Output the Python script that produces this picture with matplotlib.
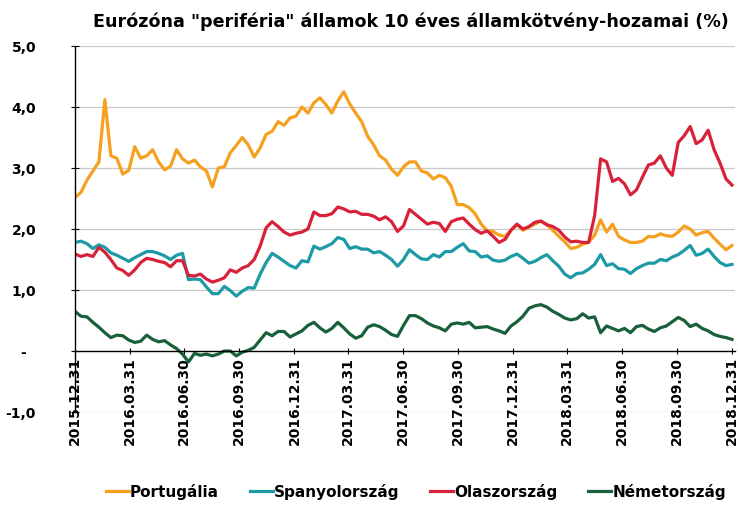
import numpy as np
import pandas as pd
import matplotlib
matplotlib.use('Agg')
import matplotlib.pyplot as plt

plt.rcParams['font.family'] = ['DejaVu Sans']
plt.rcParams['font.weight'] = 'bold'

# ~10 napos mintavetel 2015.12.31 - 2018.12.31
dates = pd.date_range('2015-12-31', '2018-12-31', periods=111)

portugal = [2.52, 2.60, 2.80, 2.95, 3.10, 4.12, 3.20, 3.16, 2.90, 2.96,
            3.35, 3.16, 3.20, 3.30, 3.10, 2.97, 3.03, 3.30, 3.15, 3.08,
            3.13, 3.02, 2.95, 2.69, 3.00, 3.02, 3.25, 3.37, 3.50, 3.38,
            3.18, 3.33, 3.55, 3.60, 3.76, 3.70, 3.82, 3.85, 4.00, 3.90,
            4.07, 4.15, 4.04, 3.90, 4.10, 4.25, 4.05, 3.90, 3.76, 3.52,
            3.38, 3.20, 3.13, 2.98, 2.88, 3.02, 3.10, 3.10, 2.95, 2.92,
            2.82, 2.88, 2.84, 2.70, 2.40, 2.40, 2.35, 2.25, 2.08, 1.97,
            1.96, 1.90, 1.88, 1.98, 2.07, 1.98, 2.03, 2.08, 2.13, 2.07,
            1.98, 1.88, 1.79, 1.68, 1.70, 1.75, 1.78, 1.90, 2.15, 1.95,
            2.08, 1.88, 1.82, 1.78, 1.78, 1.80, 1.88, 1.87, 1.92, 1.89,
            1.88, 1.95, 2.05, 2.00, 1.90, 1.94, 1.96, 1.85, 1.75, 1.66,
            1.73]

spain = [1.78, 1.80, 1.76, 1.68, 1.74, 1.70, 1.61, 1.57, 1.52, 1.47,
         1.53, 1.58, 1.63, 1.63, 1.60, 1.56, 1.50, 1.57, 1.60, 1.17,
         1.18, 1.17, 1.05, 0.94, 0.94, 1.06, 0.99, 0.90, 0.98, 1.04,
         1.03, 1.26, 1.45, 1.60, 1.54, 1.47, 1.40, 1.36, 1.48, 1.46,
         1.72, 1.67, 1.71, 1.76, 1.86, 1.83, 1.68, 1.71, 1.67, 1.67,
         1.61, 1.63, 1.57, 1.50, 1.39, 1.50, 1.66, 1.58, 1.51, 1.50,
         1.58, 1.54, 1.63, 1.63, 1.70, 1.76, 1.64, 1.63, 1.54, 1.56,
         1.49, 1.47, 1.49, 1.55, 1.59, 1.52, 1.44, 1.47, 1.53, 1.58,
         1.48, 1.39, 1.26, 1.20, 1.27, 1.28, 1.34, 1.42, 1.58, 1.40,
         1.43, 1.35, 1.34, 1.27, 1.35, 1.40, 1.44, 1.44, 1.50, 1.48,
         1.54, 1.58, 1.65, 1.73, 1.57, 1.60, 1.67, 1.55, 1.45, 1.40,
         1.42]

italy = [1.59, 1.55, 1.58, 1.55, 1.70, 1.62, 1.50, 1.36, 1.32, 1.24,
         1.33, 1.45, 1.52, 1.50, 1.47, 1.45, 1.38, 1.48, 1.48, 1.24,
         1.23, 1.26, 1.18, 1.13, 1.16, 1.20, 1.33, 1.29, 1.36, 1.40,
         1.50, 1.72, 2.02, 2.12, 2.04, 1.95, 1.90, 1.93, 1.95, 2.00,
         2.28, 2.22, 2.22, 2.25, 2.36, 2.33, 2.28, 2.29, 2.24, 2.24,
         2.21, 2.15, 2.20, 2.12, 1.96, 2.05, 2.32, 2.24, 2.16, 2.08,
         2.11, 2.09, 1.96, 2.12, 2.16, 2.18, 2.08, 1.99, 1.93, 1.97,
         1.88, 1.78, 1.83, 1.98, 2.08, 2.00, 2.04, 2.11, 2.13, 2.07,
         2.04, 1.98, 1.87, 1.79, 1.80, 1.78, 1.78, 2.22, 3.15, 3.10,
         2.78, 2.83, 2.74, 2.56, 2.64, 2.85, 3.05, 3.08, 3.20, 3.00,
         2.88, 3.42, 3.53, 3.68, 3.40, 3.46, 3.62, 3.30, 3.08, 2.82,
         2.72]

germany = [0.65, 0.57, 0.56, 0.47, 0.39, 0.30, 0.22, 0.26, 0.25, 0.18,
           0.14, 0.16, 0.26, 0.19, 0.15, 0.17, 0.10, 0.04, -0.05, -0.18,
           -0.04, -0.07, -0.05, -0.08, -0.05, 0.00, 0.00, -0.08, -0.02, 0.01,
           0.06, 0.18, 0.30, 0.25, 0.32, 0.32, 0.23, 0.28, 0.33, 0.42,
           0.47, 0.38, 0.31, 0.37, 0.47, 0.38, 0.28, 0.21, 0.25, 0.39,
           0.43, 0.40, 0.34, 0.27, 0.24, 0.42, 0.58, 0.58, 0.53, 0.46,
           0.41, 0.38, 0.33, 0.44, 0.46, 0.44, 0.47, 0.38, 0.39, 0.40,
           0.36, 0.33, 0.29, 0.41, 0.48, 0.57, 0.70, 0.74, 0.76, 0.72,
           0.65, 0.60, 0.54, 0.51, 0.53, 0.61, 0.54, 0.56, 0.30, 0.41,
           0.37, 0.33, 0.37, 0.30, 0.40, 0.42, 0.36, 0.32, 0.38, 0.41,
           0.48, 0.55, 0.50, 0.40, 0.44, 0.37, 0.33, 0.27, 0.24, 0.22,
           0.19]

series_names = ['Portugália', 'Spanyolország', 'Olaszország', 'Németország']
colors = ['#F5A01E', '#1C9AA6', '#D8213A', '#17603A']

tick_dates = pd.to_datetime(['2015-12-31', '2016-03-31', '2016-06-30', '2016-09-30',
                             '2016-12-31', '2017-03-31', '2017-06-30', '2017-09-30',
                             '2017-12-31', '2018-03-31', '2018-06-30', '2018-09-30',
                             '2018-12-31'])
y_ticks = [-1, 0, 1, 2, 3, 4, 5]
y_labels = ['-1,0', '-  ', '1,0', '2,0', '3,0', '4,0', '5,0']

fig = plt.figure(figsize=(7.38, 5.06), dpi=100)
ax = fig.add_axes([75 / 738, 93 / 506, 660 / 738, 366 / 506])

for vals, name, c in zip([portugal, spain, italy, germany], series_names, colors):
    ax.plot(dates, vals, color=c, lw=2.3, label=name, solid_joinstyle='round')

ax.set_ylim(-1, 5)
ax.set_xlim(pd.Timestamp('2015-12-31'), pd.Timestamp('2019-01-05'))

for y in [-1, 1, 2, 3, 4, 5]:
    ax.axhline(y, color='#c8c8c8', lw=0.9, zorder=0)

ax.spines['top'].set_visible(False)
ax.spines['right'].set_visible(False)
ax.spines['bottom'].set_position(('data', 0))
ax.spines['bottom'].set_linewidth(1.0)
ax.spines['left'].set_linewidth(1.0)

ax.set_yticks(y_ticks)
ax.set_yticklabels(y_labels, fontsize=10, fontweight='bold')
ax.tick_params(axis='y', direction='inout', length=6, pad=25)
for lab in ax.get_yticklabels():
    lab.set_horizontalalignment('right')

ax.set_xticks(tick_dates)
ax.set_xticklabels([d.strftime('%Y.%m.%d') for d in tick_dates],
                   rotation=90, fontsize=10, fontweight='bold')
ax.tick_params(axis='x', direction='inout', length=5, pad=1)

fig.text(411 / 738, 1 - 22 / 506,
         'Eurózóna "periféria" államok 10 éves államkötvény-hozamai (%)',
         ha='center', va='center', fontsize=12.6, fontweight='bold')

fig.legend(loc='center', bbox_to_anchor=(416 / 738, 1 - 492 / 506), ncol=4,
           frameon=False, handlelength=1.5, handletextpad=0.1,
           columnspacing=2.0, prop={'weight': 'bold', 'size': 11})

fig.savefig('out.png', dpi=100)
